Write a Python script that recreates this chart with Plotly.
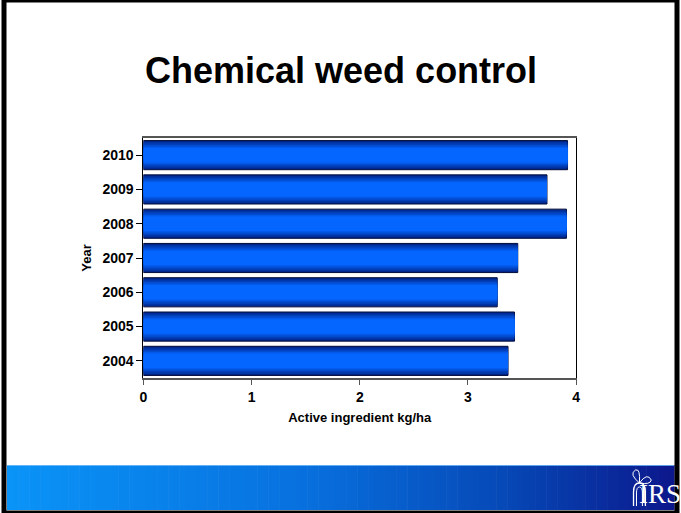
import plotly.graph_objects as go

# ---- data ----
years = ["2004", "2005", "2006", "2007", "2008", "2009", "2010"]
values = [3.37, 3.43, 3.27, 3.46, 3.91, 3.73, 3.92]
x_ticks = [0, 1, 2, 3, 4]
title_text = "Chemical weed control"
x_title = "Active ingredient kg/ha"
y_title = "Year"

W, H = 681, 513
FONT = "Liberation Sans, Arial, sans-serif"

def px_x(p):
    return p / W

def px_y(p):
    return 1 - p / H

def lerp(c1, c2, t):
    return tuple(int(round(a + (b - a) * t)) for a, b in zip(c1, c2))

def rgb(c):
    return "rgb(%d,%d,%d)" % c

fig = go.Figure()

# cylinder-like gradient bars: stacked overlay layers
n_layers = 9
dark = (0, 38, 140)
bright = (5, 102, 255)
full_w = 0.85
for k in range(n_layers):
    t = k / (n_layers - 1)
    w = full_w * (1 - 0.8 * t)
    col = lerp(dark, bright, min(1.0, t * 1.6))
    fig.add_trace(go.Bar(
        x=values, y=years, orientation="h",
        width=w,
        marker=dict(color=rgb(col),
                    line=dict(color="#000c3a" if k == 0 else rgb(col),
                              width=1 if k == 0 else 0)),
        hoverinfo="skip", showlegend=False,
    ))

fig.update_layout(
    width=W, height=H,
    margin=dict(l=0, r=0, t=0, b=0),
    paper_bgcolor="white", plot_bgcolor="white",
    barmode="overlay",
    font=dict(family=FONT, color="black"),
    xaxis=dict(
        domain=[px_x(141), px_x(579)],
        range=[0, 4], tickvals=x_ticks,
        ticks="outside", ticklen=5, tickcolor="#555555",
        showgrid=False, zeroline=False,
        showline=True, linecolor="#555555", linewidth=1.5, mirror=True,
        tickfont=dict(size=14, family=FONT, weight="bold"),
        title=dict(text="<b>%s</b>" % x_title, font=dict(size=13, family=FONT), standoff=9),
    ),
    yaxis=dict(
        domain=[px_y(378), px_y(138)],
        type="category", categoryorder="array", categoryarray=years,
        range=[-0.5, 6.5],
        ticks="outside", ticklen=6, tickcolor="black",
        showgrid=False, zeroline=False,
        showline=True, linecolor="black", linewidth=1, mirror=True,
        tickfont=dict(size=14, family=FONT, weight="bold"),
        title=dict(text="<b>%s</b>" % y_title, font=dict(size=13, family=FONT), standoff=7),
    ),
)

shapes = []
# bottom gradient banner
x0p, x1p = 3, 678
y0p, y1p = 465, 510
stops = [(0.0, (10, 148, 248)), (0.45, (8, 112, 222)), (0.75, (6, 72, 182)), (1.0, (12, 24, 140))]
n_strips = 120
for i in range(n_strips):
    t = (i + 0.5) / n_strips
    for j in range(len(stops) - 1):
        if stops[j][0] <= t <= stops[j + 1][0]:
            tt = (t - stops[j][0]) / (stops[j + 1][0] - stops[j][0])
            c = lerp(stops[j][1], stops[j + 1][1], tt)
            break
    xa = x0p + (x1p - x0p) * i / n_strips
    xb = x0p + (x1p - x0p) * (i + 1) / n_strips + 0.6
    shapes.append(dict(type="rect", xref="paper", yref="paper",
                       x0=px_x(xa), x1=px_x(xb), y0=px_y(y1p), y1=px_y(y0p),
                       fillcolor=rgb(c), line=dict(width=0), layer="below"))
# light line at the top of banner
shapes.append(dict(type="line", xref="paper", yref="paper",
                   x0=px_x(x0p), x1=px_x(x1p), y0=px_y(465.5), y1=px_y(465.5),
                   line=dict(color="rgba(120,190,255,0.8)", width=1)))
# page border
shapes.append(dict(type="rect", xref="paper", yref="paper", x0=0, x1=1, y0=0, y1=1,
                   line=dict(color="black", width=5), fillcolor="rgba(0,0,0,0)"))
# logo flower outline
def P(x, y):
    return "%.4f,%.4f" % (px_x(x), px_y(y))
flower = ("M " + P(637, 506) + " L " + P(637, 492) + " Q " + P(637, 483) + " " + P(643, 483)
          + " Q " + P(649, 483) + " " + P(649, 492) + " L " + P(649, 506))
shapes.append(dict(type="path", xref="paper", yref="paper", path=flower,
                   line=dict(color="white", width=1.3)))
inner = ("M " + P(640, 506) + " L " + P(640, 493) + " Q " + P(640, 487) + " " + P(643, 487)
         + " Q " + P(646, 487) + " " + P(646, 493) + " L " + P(646, 506))
shapes.append(dict(type="path", xref="paper", yref="paper", path=inner,
                   line=dict(color="white", width=1)))
petals = ("M " + P(643, 483) + " Q " + P(632, 474) + " " + P(639, 470) + " Q " + P(644, 468) + " " + P(643, 483)
          + " M " + P(643, 483) + " Q " + P(651, 472) + " " + P(655, 480) + " Q " + P(654, 485) + " " + P(643, 483))
shapes.append(dict(type="path", xref="paper", yref="paper", path=petals,
                   line=dict(color="white", width=1)))
fig.update_layout(shapes=shapes)

fig.add_annotation(
    text="<b>%s</b>" % title_text, xref="paper", yref="paper",
    x=px_x(341), y=px_y(70), xanchor="center", yanchor="middle",
    showarrow=False, font=dict(size=36, family=FONT, color="black"),
)
fig.add_annotation(
    text="IRS", xref="paper", yref="paper",
    x=px_x(664), y=px_y(494), xanchor="center", yanchor="middle",
    showarrow=False, font=dict(size=27, family="Liberation Serif, serif", color="white"),
)

fig.write_html("out.html",
               config={"displayModeBar": False},
               post_script="document.body.style.margin='0';document.body.style.overflow='hidden';")
